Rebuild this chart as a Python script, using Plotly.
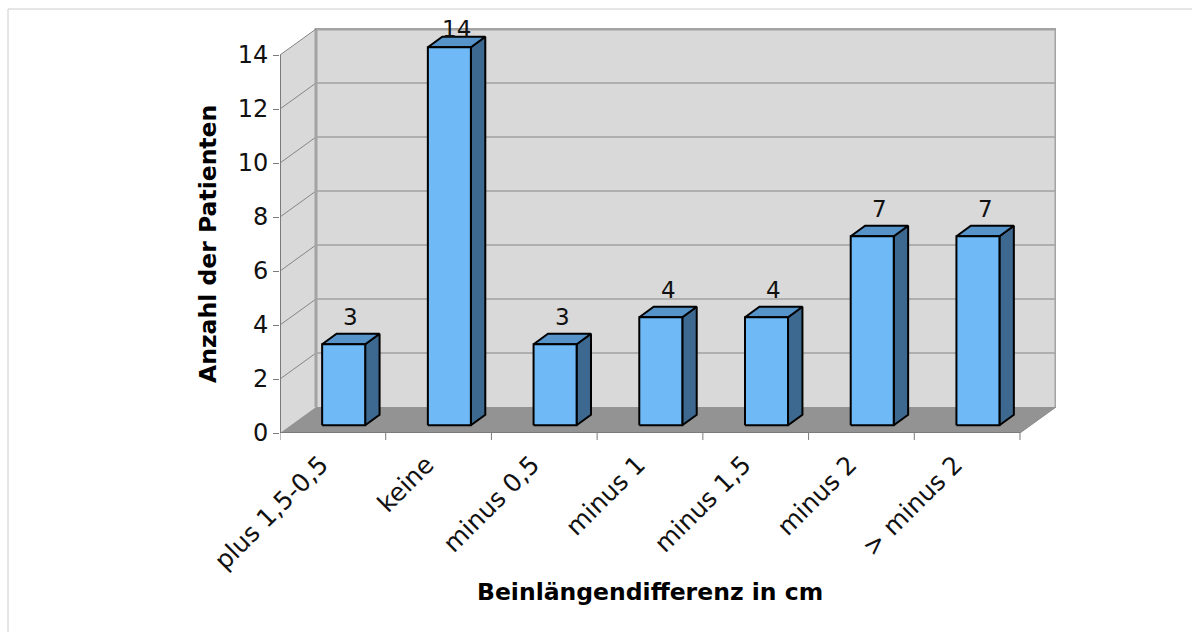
import plotly.graph_objects as go

# Beinlängendifferenz der Patienten (3D-Säulendiagramm)
categories = ["plus 1,5-0,5", "keine", "minus 0,5", "minus 1", "minus 1,5", "minus 2", "> minus 2"]
counts = [3, 14, 3, 4, 4, 7, 7]
y_ticks = [0, 2, 4, 6, 8, 10, 12, 14]

FONT = "DejaVu Sans"
n = len(categories)

# pseudo-3D geometry in data units
DX, DY = 0.3406, 0.963          # full depth of the chart box
OX, OY = 0.3 * DX, 0.3 * DY     # bar front offset into the box
BDX, BDY = 0.4 * DX, 0.4 * DY   # bar depth
BW = 0.407                      # bar width
xl, xr = -0.5, n - 0.5
ymax = max(y_ticks)

fig = go.Figure()

def poly(xs, ys, fill, line_color=None, lw=0):
    fig.add_trace(go.Scatter(
        x=list(xs) + [xs[0]], y=list(ys) + [ys[0]], mode="lines", fill="toself",
        fillcolor=fill, line=dict(color=line_color or fill, width=lw),
        hoverinfo="skip", showlegend=False))

def seg(xs, ys, color, width):
    fig.add_trace(go.Scatter(x=xs, y=ys, mode="lines", line=dict(color=color, width=width),
                             hoverinfo="skip", showlegend=False))

wall = "#d9d9d9"
# back wall
poly([xl + DX, xr + DX, xr + DX, xl + DX], [DY, DY, ymax + DY, ymax + DY], wall)
# side wall
poly([xl, xl + DX, xl + DX, xl], [0, DY, ymax + DY, ymax], wall)

# gridlines on back and side walls
for t in y_ticks[1:-1]:
    seg([xl, xl + DX, xr + DX], [t, t + DY, t + DY], "#858585", 1)

# wall borders
seg([xl + DX, xl + DX, xr + DX, xr + DX], [DY, ymax + DY, ymax + DY, DY], "#a3a3a3", 3)
seg([xl, xl + DX], [ymax, ymax + DY], "#858585", 1)

# floor
poly([xl, xr, xr + DX, xl + DX], [0, 0, DY, DY], "#939393")
seg([xr, xr + DX], [0, DY], "#8a8a8a", 1)

# front axis lines
seg([xl, xl], [0, ymax], "#7a7a7a", 2)
seg([xl, xr], [0, 0], "#7a7a7a", 2)

# bars
front_c, side_c, top_c = "#6fbaf6", "#3d6990", "#5593c9"
for i, v in enumerate(counts):
    x0 = i - BW / 2 + OX
    x1 = x0 + BW
    y0 = OY
    y1 = v + OY
    poly([x1, x1 + BDX, x1 + BDX, x1], [y0, y0 + BDY, y1 + BDY, y1], side_c, "#000000", 2)
    poly([x0, x1, x1 + BDX, x0 + BDX], [y1, y1, y1 + BDY, y1 + BDY], top_c, "#000000", 2)
    poly([x0, x1, x1, x0], [y0, y0, y1, y1], front_c, "#000000", 2)
    label_y = min(y1 + BDY + 17 / 27, 14.96)
    fig.add_annotation(x=(x0 + x1) / 2 + BDX / 2, y=label_y, text=str(v), showarrow=False,
                       xanchor="center", yanchor="middle",
                       font=dict(family=FONT, size=23, color="#111111"))

# category boundary tick marks
for b in range(n + 1):
    fig.add_shape(type="line", xref="x", yref="paper", x0=b - 0.5, x1=b - 0.5,
                  y0=0, y1=-7 / 405, line=dict(color="#7a7a7a", width=1))

# outer frame
W, H = 1192, 632
L, R, T, B = 280, 136, 28, 199
pw, ph = W - L - R, H - T - B
fig.add_shape(type="rect", xref="paper", yref="paper",
              x0=(8 - L) / pw, x1=(W + 20 - L) / pw, y0=(H - 640 - B) / ph, y1=(H - 9 - B) / ph,
              line=dict(color="#cccccc", width=1), fillcolor="rgba(0,0,0,0)", layer="below")

# axis titles
fig.add_annotation(x=(xl + xr) / 2, y=(H - 592 - B) / ph, xref="x", yref="paper",
                   text="<b>Beinlängendifferenz in cm</b>", showarrow=False,
                   xanchor="center", yanchor="middle",
                   font=dict(family=FONT, size=23.5, color="#000000"))
fig.add_annotation(x=(208 - L) / pw, y=ymax / 2, xref="paper", yref="y",
                   text="<b>Anzahl der Patienten</b>", textangle=-90, showarrow=False,
                   xanchor="center", yanchor="middle",
                   font=dict(family=FONT, size=23.5, color="#000000"))

fig.update_layout(
    width=W, height=H,
    margin=dict(l=L, r=R, t=T, b=B),
    paper_bgcolor="#ffffff", plot_bgcolor="#ffffff",
    showlegend=False,
    xaxis=dict(range=[xl, xr + DX], tickvals=list(range(n)), ticktext=categories,
               tickangle=-45, ticks="", showgrid=False, zeroline=False, showline=False,
               ticklabelstandoff=11, ticklabelshift=-12,
               tickfont=dict(family=FONT, size=25, color="#111111"), fixedrange=True),
    yaxis=dict(range=[0, ymax + DY + 0.037], tickvals=y_ticks, ticks="outside", ticklen=6,
               tickcolor="#7a7a7a", showgrid=False, zeroline=False, showline=False,
               tickfont=dict(family=FONT, size=24, color="#111111"), fixedrange=True),
)

fig.write_html("out.html")
